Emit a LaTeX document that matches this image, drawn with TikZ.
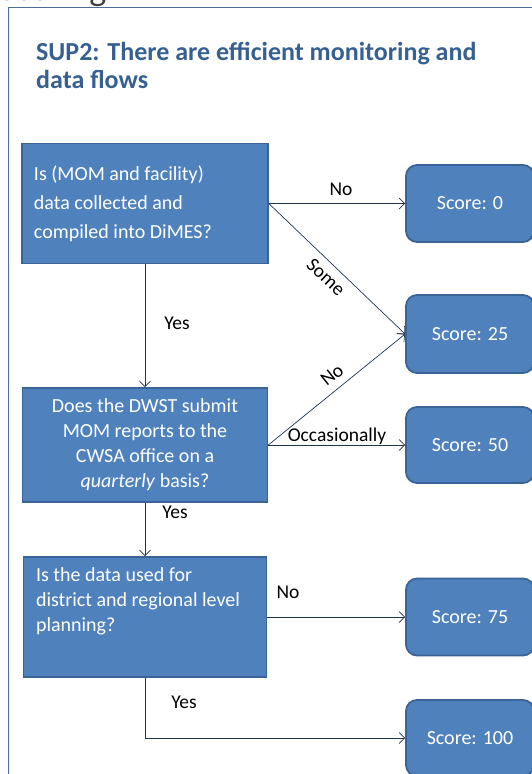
\documentclass[tikz,border=0pt]{standalone}
\usepackage{fontspec}
\setmainfont{Carlito}
\usetikzlibrary{arrows.meta}
\definecolor{boxfill}{HTML}{4F81BD}
\definecolor{boxedge}{HTML}{3A6496}
\definecolor{titleblue}{HTML}{376092}
\definecolor{framec}{HTML}{4A6E9C}
\definecolor{linkc}{HTML}{1F3550}
\begin{document}
\begin{tikzpicture}[x=1pt,y=1pt,
  question/.style={draw=boxedge, line width=1.6pt, fill=boxfill, text=white,
    inner sep=0pt, font=\fontsize{20}{25}\selectfont},
  score/.style={draw=boxedge, line width=1.8pt, fill=boxfill, rounded corners=11pt,
    text=white, minimum width=128pt, inner sep=0pt, font=\fontsize{20}{24}\selectfont},
  link/.style={draw=linkc, line width=0.7pt, -{Straight Barb[length=5.5pt,width=11pt]}},
  lab/.style={font=\fontsize{19.5}{22}\selectfont, inner sep=0pt}
]
\useasboundingbox (0,0) rectangle (532,-774);

% page heading (runs off the top) and the slide frame
\node[anchor=base west, font=\fontsize{36}{40}\selectfont, text=darkgray, inner sep=0pt] (heading) at (-1,-0.5) {Scoring};
\draw[framec, line width=1.2pt] (540,-7.5) -- (8.5,-7.5) -- (8.5,-790);

% title
\node[anchor=north west, text=titleblue, font=\bfseries\fontsize{26}{28}\selectfont,
  align=left, inner sep=0pt] (title) at (36,-42) {SUP2: There are efficient monitoring and\\data flows};

% questions
\node[question, minimum width=246pt, minimum height=120pt] (q1) at (145,-203.5)
  {\parbox{222pt}{\raggedright\fontsize{20}{29}\selectfont Is (MOM and facility)\\data collected and\\compiled into DiMES?}};
\node[question, minimum width=245pt, minimum height=114pt] (q2) at (145,-445)
  {\parbox{225pt}{\centering Does the DWST submit\\MOM reports to the\\CWSA office on a\\\textit{quarterly} basis?}};
\node[question, minimum width=243pt, minimum height=120pt] (q3) at (145,-617)
  {\parbox[c][98pt][t]{218pt}{\raggedright Is the data used for\\district and regional level\\planning?}};

% scores
\node[score, minimum height=77pt] (s0) at (470,-203.5) {Score: 0};
\node[score, minimum height=78pt] (s25) at (470,-334) {Score: 25};
\node[score, minimum height=76pt] (s50) at (470,-445) {Score: 50};
\node[score, minimum height=77pt] (s75) at (470,-617) {Score: 75};
\node[score, minimum height=76pt] (s100) at (470,-738) {Score: 100};

% connectors
\draw[link] (q1.east) -- (s0.west);
\draw[link] (q1.east) -- (s25.west);
\draw[link] (q1.south) -- (q2.north);
\draw[link] (q2.east) -- (s25.west);
\draw[link] (q2.east) -- (s50.west);
\draw[link] (q2.south) -- (q3.north);
\draw[link] (q3.east) -- (s75.west);
\draw[link] (q3.south) |- (s100.west);

% connector labels
\node[lab] (l1) at (341,-189) {No};
\node[lab, rotate=-43] (l2) at (326,-277) {Some};
\node[lab] (l3) at (177,-323) {Yes};
\node[lab, rotate=38.6] (l4) at (332,-375) {No};
\node[lab] (l5) at (337,-436) {Occasionally};
\node[lab] (l6) at (175,-512) {Yes};
\node[lab] (l7) at (288,-592) {No};
\node[lab] (l8) at (184,-702) {Yes};
\end{tikzpicture}
\end{document}
